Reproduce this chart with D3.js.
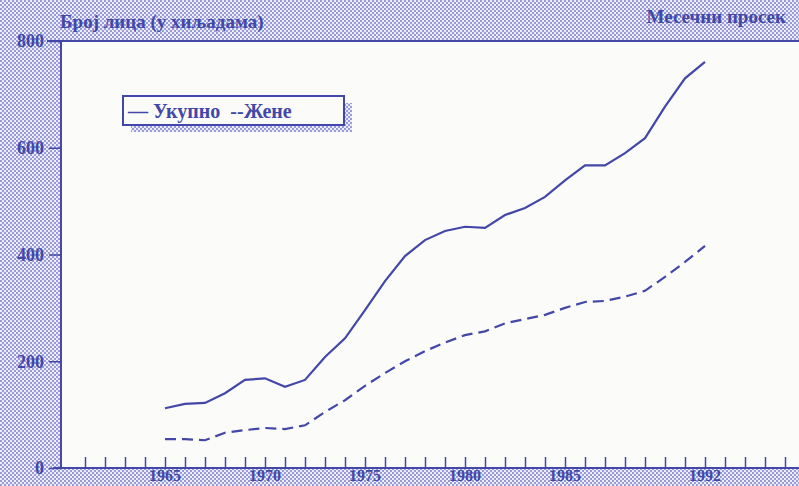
<!DOCTYPE html>
<html>
<head>
<meta charset="utf-8">
<script src="https://cdn.jsdelivr.net/npm/d3@7"></script>
<style>
	body { margin: 0; background: #fff; }
	svg { display: block; }
	text { font-family: "Liberation Serif", "DejaVu Serif", serif; font-weight: bold; fill: #4247a8; }
</style>
</head>
<body>
<script>
// page size, same as the scan
var width = 799,
	height = 486;

// years shown on the chart
var years = [1965, 1966, 1967, 1968, 1969, 1970, 1971, 1972, 1973, 1974,
	1975, 1976, 1977, 1978, 1979, 1980, 1981, 1982, 1983, 1984,
	1985, 1986, 1987, 1988, 1989, 1990, 1991, 1992];

// Укупно (total), thousands of persons
var total = [112, 120, 122, 140, 165, 168, 152, 165, 208, 243,
	296, 350, 397, 427, 444, 452, 450, 474, 487, 508,
	539, 567, 567, 590, 618, 677, 730, 761];

// Жене (women), thousands of persons
var women = [54, 54, 52, 66, 71, 75, 73, 80, 105, 127,
	154, 178, 200, 219, 235, 249, 256, 271, 279, 287,
	300, 311, 313, 321, 332, 358, 386, 416];

// axis labels
var xLabels = [1965, 1970, 1975, 1980, 1985, 1992];
var yLabels = [0, 200, 400, 600, 800];

var blue = '#4247a8';

var x = d3.scaleLinear()
	.domain([1960, 1997])
	.range([65, 805]);

var y = d3.scaleLinear()
	.domain([0, 800])
	.range([468, 41]);

var svg = d3.select('body')
	.append('svg')
	.attr('width', width)
	.attr('height', height);

// halftone dots for the printed background
var defs = svg.append('defs');
var dots = defs.append('pattern')
	.attr('id', 'dots')
	.attr('width', 4)
	.attr('height', 4)
	.attr('patternUnits', 'userSpaceOnUse');
dots.append('rect').attr('width', 4).attr('height', 4).attr('fill', '#ecedf8');
dots.append('circle').attr('cx', 1).attr('cy', 1).attr('r', 0.95).attr('fill', '#7478c8');
dots.append('circle').attr('cx', 3).attr('cy', 3).attr('r', 0.95).attr('fill', '#7478c8');

svg.append('rect')
	.attr('width', width)
	.attr('height', height)
	.attr('fill', 'url(#dots)');

// white paper of the plot
svg.append('rect')
	.attr('x', x(1960) - 4)
	.attr('y', y(800))
	.attr('width', width - x(1960) + 4)
	.attr('height', y(0) - y(800))
	.attr('fill', '#fbfbfa');

// titles
svg.append('text')
	.attr('x', 60)
	.attr('y', 28)
	.style('font-size', '19px')
	.text('Број лица (у хиљадама)');

svg.append('text')
	.attr('x', 786)
	.attr('y', 23)
	.attr('text-anchor', 'end')
	.style('font-size', '19px')
	.text('Месечни просек');

// frame lines: top and left
svg.append('line')
	.attr('x1', 47).attr('x2', width)
	.attr('y1', y(800)).attr('y2', y(800))
	.attr('stroke', blue).attr('stroke-width', 2);

svg.append('line')
	.attr('x1', x(1960) - 4).attr('x2', x(1960) - 4)
	.attr('y1', y(800)).attr('y2', y(0))
	.attr('stroke', blue).attr('stroke-width', 2);

// y axis ticks go out to the left
var yAxis = d3.axisLeft(y)
	.tickValues(yLabels)
	.tickSize(12)
	.tickPadding(5)
	.tickFormat(d3.format('d'));

var gy = svg.append('g')
	.attr('transform', 'translate(' + (x(1960) - 4) + ',0)')
	.call(yAxis);
gy.select('.domain').remove();
gy.selectAll('line').attr('stroke', blue).attr('stroke-width', 1.5);
gy.selectAll('text')
	.attr('fill', blue)
	.style('font-size', '18px')
	.style('font-family', '"Liberation Serif", serif')
	.style('font-weight', 'bold');

// x axis: a tick every year, pointing up
var xAxis = d3.axisBottom(x)
	.tickValues(d3.range(1961, 1997))
	.tickSize(-11)
	.tickFormat('');

var gx = svg.append('g')
	.attr('transform', 'translate(0,' + y(0) + ')')
	.call(xAxis);
gx.select('.domain').remove();
gx.selectAll('line').attr('stroke', blue).attr('stroke-width', 1.5);

svg.append('line')
	.attr('x1', 53).attr('x2', width)
	.attr('y1', y(0)).attr('y2', y(0))
	.attr('stroke', blue).attr('stroke-width', 2);

// year labels sit just under the axis at the page edge
svg.selectAll('.xlab')
	.data(xLabels)
	.enter().append('text')
	.attr('class', 'xlab')
	.attr('x', function(d) { return x(d); })
	.attr('y', 481)
	.attr('text-anchor', 'middle')
	.style('font-size', '16px')
	.text(function(d) { return d; });

// the two series
var line = d3.line()
	.x(function(d, i) { return x(years[i]); })
	.y(function(d) { return y(d); });

svg.append('path')
	.datum(total)
	.attr('d', line)
	.attr('fill', 'none')
	.attr('stroke', blue)
	.attr('stroke-width', 2.2);

svg.append('path')
	.datum(women)
	.attr('d', line)
	.attr('fill', 'none')
	.attr('stroke', blue)
	.attr('stroke-width', 2.2)
	.attr('stroke-dasharray', '11,6');

// legend box with a dotted drop shadow
var lg = svg.append('g');

lg.append('rect')
	.attr('x', 131).attr('y', 103)
	.attr('width', 221).attr('height', 29)
	.attr('fill', 'url(#dots)');

lg.append('rect')
	.attr('x', 123).attr('y', 96)
	.attr('width', 221).attr('height', 29)
	.attr('fill', '#fbfbfa')
	.attr('stroke', blue)
	.attr('stroke-width', 2);

lg.append('text')
	.attr('x', 128)
	.attr('y', 118)
	.attr('xml:space', 'preserve')
	.style('font-size', '20px')
	.text('— Укупно  --Жене');
</script>
</body>
</html>
